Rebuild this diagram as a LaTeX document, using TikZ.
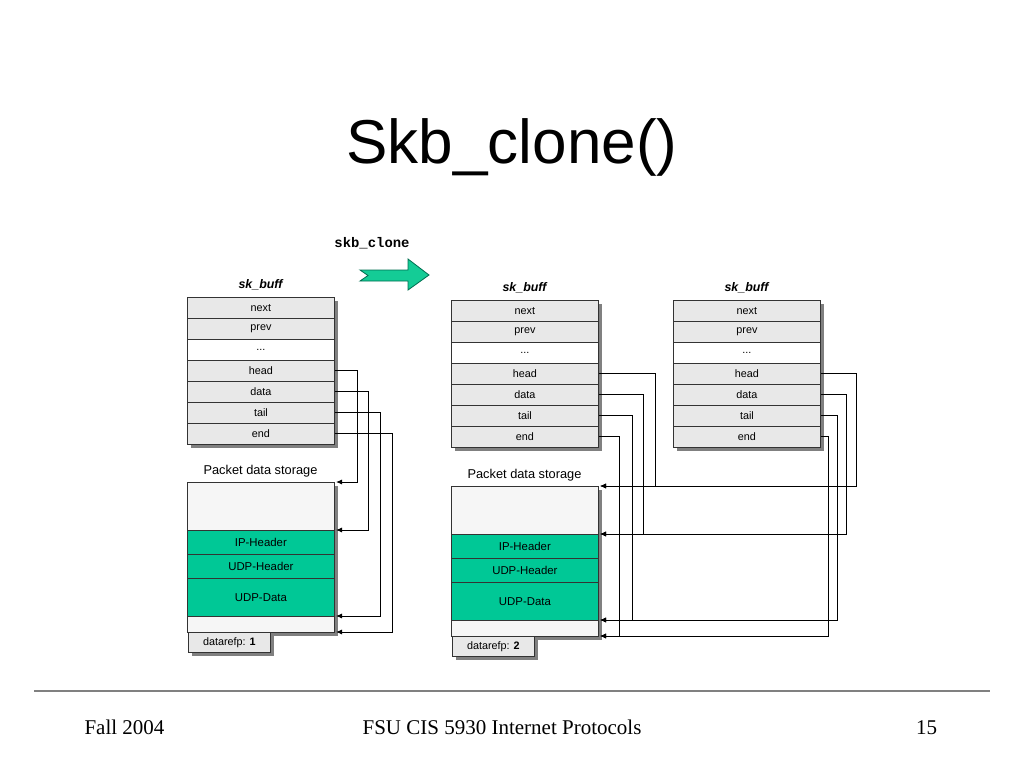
\documentclass[tikz,border=0pt]{standalone}
\usepackage{fontspec}
\setmainfont{Liberation Serif}
\setsansfont{Liberation Sans}
\setmonofont{Liberation Mono}
\usetikzlibrary{arrows.meta}
\usepackage{xcolor}

\definecolor{rowgray}{RGB}{232,232,232}
\definecolor{freegray}{RGB}{246,246,246}
\definecolor{shadegray}{RGB}{128,128,128}
\definecolor{hdrgreen}{RGB}{0,200,150}
\definecolor{arrowgreen}{RGB}{20,204,150}
\definecolor{arrowline}{RGB}{0,110,80}

\tikzset{
  skbrow/.style={draw=black!80,line width=0.8pt,anchor=north west,inner sep=0pt,
    minimum width=147pt,minimum height=21pt,font=\sffamily\fontsize{10.8}{12}\selectfont},
  area/.style={draw=black!80,line width=0.8pt,anchor=north west,inner sep=0pt,
    minimum width=147pt,font=\sffamily\fontsize{11.4}{13}\selectfont},
  refbox/.style={draw=black!80,line width=0.8pt,fill=rowgray,anchor=north west,inner sep=0pt,
    minimum width=82pt,minimum height=20pt,font=\sffamily\fontsize{10.8}{12}\selectfont},
  shade/.style={fill=shadegray},
  tabtitle/.style={font=\sffamily\bfseries\itshape\fontsize{12.4}{14}\selectfont},
  storetitle/.style={font=\sffamily\fontsize{12.8}{14}\selectfont},
  ptr/.style={draw,line width=0.9pt,-{Latex[length=6pt,width=5pt]}}
}

\newcommand\skbdots{...}

% one sk_buff structure: prefix, left x, top y
\newcommand\skbtable[3]{%
  \fill[shade] (#2+4,#3+4) rectangle ++(147,147);
  \foreach \lbl/\col [count=\i] in {next/rowgray,prev/rowgray,\skbdots/white,
      head/rowgray,data/rowgray,tail/rowgray,end/rowgray}
    \node[skbrow,fill=\col] (#1-\i) at (#2,#3+21*\i-21) {\lbl};
  \node[tabtitle] (#1-title) at (#2+73.5,#3-12) {sk\_buff};
}

% packet data storage: prefix, left x, top y, reference count
\newcommand\skbstore[4]{%
  \fill[shade] (#2+4,#3+4) rectangle ++(147,150);
  \node[area,fill=freegray,minimum height=48pt] (#1-free) at (#2,#3) {};
  \node[area,fill=hdrgreen,minimum height=24pt] (#1-ip) at (#2,#3+48) {IP-Header};
  \node[area,fill=hdrgreen,minimum height=24pt] (#1-udph) at (#2,#3+72) {UDP-Header};
  \node[area,fill=hdrgreen,minimum height=38pt] (#1-udpd) at (#2,#3+96) {UDP-Data};
  \node[area,fill=freegray,minimum height=16pt] (#1-room) at (#2,#3+134) {};
  \fill[shade] (#2+5,#3+154) rectangle ++(82,20);
  \node[refbox] (#1-ref) at (#2+1,#3+150) {datarefp: \textbf{#4}};
  \node[storetitle] (#1-title) at (#2+73.5,#3-11) {Packet data storage};
  \coordinate (#1-top) at (#2+149,#3);
  \coordinate (#1-ipt) at (#2+149,#3+48);
  \coordinate (#1-dend) at (#2+149,#3+134);
  \coordinate (#1-bot) at (#2+149,#3+150);
}

\begin{document}
\begin{tikzpicture}[x=1pt,y=-1pt]
\useasboundingbox (0,0) rectangle (1024,768);

\node[font=\sffamily\fontsize{62}{70}\selectfont,anchor=base] (title) at (512,163) {Skb\_clone()};

% clone arrow
\node[font=\ttfamily\bfseries\fontsize{13.9}{15}\selectfont] (clone) at (372,243) {skb\_clone};
\draw[fill=arrowgreen,draw=arrowline,line width=0.8pt]
  (360,270) -- (408,270) -- (408,259) -- (429,275) -- (408,290) -- (408,281)
  -- (360,281) -- (368,275.5) -- cycle;

% original buffer
\skbtable{L}{187}{297}
\skbstore{Ls}{187}{482}{1}

% clone and its copy
\skbtable{M}{451}{300}
\skbtable{R}{673}{300}
\skbstore{Ms}{451}{486}{2}

% pointers
\draw[ptr] (L-4.east) -- ++(23,0) |- (Ls-top);
\draw[ptr] (L-5.east) -- ++(34,0) |- (Ls-ipt);
\draw[ptr] (L-6.east) -- ++(46,0) |- (Ls-dend);
\draw[ptr] (L-7.east) -- ++(58,0) |- (Ls-bot);

\draw[ptr] (M-4.east) -- ++(57,0) |- (Ms-top);
\draw[ptr] (M-5.east) -- ++(45,0) |- (Ms-ipt);
\draw[ptr] (M-6.east) -- ++(34,0) |- (Ms-dend);
\draw[ptr] (M-7.east) -- ++(21,0) |- (Ms-bot);

\draw[ptr] (R-4.east) -- ++(36,0) |- (Ms-top);
\draw[ptr] (R-5.east) -- ++(26,0) |- (Ms-ipt);
\draw[ptr] (R-6.east) -- ++(17,0) |- (Ms-dend);
\draw[ptr] (R-7.east) -- ++(8,0) |- (Ms-bot);

% footer
\draw[gray,line width=1.5pt] (34,691) coordinate (rule-l) -- (990,691) coordinate (rule-r);
\node[font=\fontsize{21}{24}\selectfont,anchor=base] (term) at (124.5,734) {Fall 2004};
\node[font=\fontsize{21}{24}\selectfont,anchor=base] (course) at (502,734) {FSU CIS 5930 Internet Protocols};
\node[font=\fontsize{21}{24}\selectfont,anchor=base] (page) at (926.5,734) {15};
\end{tikzpicture}
\end{document}
